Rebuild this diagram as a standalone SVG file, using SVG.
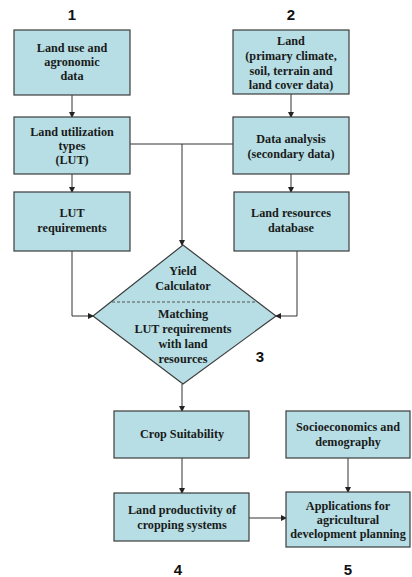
<svg xmlns="http://www.w3.org/2000/svg" width="412" height="577" viewBox="0 0 412 577">
<defs>
<style>
.box{fill:#b6dee4;stroke:#3c3c3c;stroke-width:1.2}
.t{font-family:"Liberation Serif",serif;font-weight:bold;font-size:12.2px;fill:#1a1a1a;text-anchor:middle}
.n{font-family:"Liberation Sans",Arial,sans-serif;font-weight:bold;font-size:15px;fill:#111;text-anchor:middle}
.c{fill:none;stroke:#333;stroke-width:1}
.d{fill:none;stroke:#555;stroke-width:1;stroke-dasharray:3,2}
</style>
<marker id="ah" markerWidth="6" markerHeight="6" refX="5" refY="3" orient="auto" markerUnits="userSpaceOnUse">
<path d="M0,0 L6,3 L0,6 z" fill="#222"/>
</marker>
</defs>
<rect width="412" height="577" fill="#fff"/>
<g id="labels">
<text class="n" x="72" y="20">1</text>
<text class="n" x="291" y="20">2</text>
<text class="n" x="260" y="362">3</text>
<text class="n" x="178" y="575">4</text>
<text class="n" x="348" y="575">5</text>
</g>
<g id="connectors">
<line class="c" x1="72" y1="95" x2="72" y2="117" marker-end="url(#ah)"/>
<line class="c" x1="291" y1="94" x2="291" y2="117" marker-end="url(#ah)"/>
<line class="c" x1="72" y1="174" x2="72" y2="192" marker-end="url(#ah)"/>
<line class="c" x1="291" y1="174" x2="291" y2="192" marker-end="url(#ah)"/>
<line class="c" x1="130" y1="144" x2="233" y2="144"/>
<line class="c" x1="182" y1="144" x2="182" y2="245" marker-end="url(#ah)"/>
<polyline class="c" points="72,251 72,316 93,316" marker-end="url(#ah)"/>
<polyline class="c" points="297,251 297,316 276,316" marker-end="url(#ah)"/>
<line class="c" x1="182" y1="384" x2="182" y2="411" marker-end="url(#ah)"/>
<line class="c" x1="182" y1="458" x2="182" y2="493" marker-end="url(#ah)"/>
<line class="c" x1="348" y1="458" x2="348" y2="492" marker-end="url(#ah)"/>
<line class="c" x1="249" y1="518" x2="286" y2="518" marker-end="url(#ah)"/>
</g>
<g id="n1">
<rect class="box" x="14" y="30" width="116" height="65"/>
<text class="t" x="72" y="52">Land use and</text>
<text class="t" x="72" y="66">agronomic</text>
<text class="t" x="72" y="80">data</text>
</g>
<g id="n2">
<rect class="box" x="233" y="30" width="116" height="64"/>
<text class="t" x="291" y="45">Land</text>
<text class="t" x="291" y="60">(primary climate,</text>
<text class="t" x="291" y="75">soil, terrain and</text>
<text class="t" x="291" y="89">land cover data)</text>
</g>
<g id="lut">
<rect class="box" x="14" y="117" width="116" height="57"/>
<text class="t" x="72" y="136">Land utilization</text>
<text class="t" x="72" y="150">types</text>
<text class="t" x="72" y="164">(LUT)</text>
</g>
<g id="analysis">
<rect class="box" x="233" y="117" width="116" height="57"/>
<text class="t" x="291" y="143">Data analysis</text>
<text class="t" x="291" y="158">(secondary data)</text>
</g>
<g id="lutreq">
<rect class="box" x="14" y="192" width="116" height="59"/>
<text class="t" x="72" y="217">LUT</text>
<text class="t" x="72" y="232">requirements</text>
</g>
<g id="resdb">
<rect class="box" x="234" y="192" width="115" height="59"/>
<text class="t" x="291" y="217">Land resources</text>
<text class="t" x="291" y="232">database</text>
</g>
<g id="diamond">
<polygon class="box" points="183,245 276,316 183,384 93,316"/>
<line class="d" x1="112" y1="302" x2="257" y2="302"/>
<text class="t" x="183" y="275">Yield</text>
<text class="t" x="183" y="290">Calculator</text>
<text class="t" x="183" y="318">Matching</text>
<text class="t" x="183" y="333">LUT requirements</text>
<text class="t" x="183" y="348">with land</text>
<text class="t" x="183" y="363">resources</text>
</g>
<g id="crop">
<rect class="box" x="114" y="411" width="135" height="47"/>
<text class="t" x="182" y="438">Crop Suitability</text>
</g>
<g id="socio">
<rect class="box" x="286" y="411" width="124" height="47"/>
<text class="t" x="348" y="431">Socioeconomics and</text>
<text class="t" x="348" y="446">demography</text>
</g>
<g id="prod">
<rect class="box" x="114" y="493" width="135" height="48"/>
<text class="t" x="182" y="514">Land productivity of</text>
<text class="t" x="182" y="529">cropping systems</text>
</g>
<g id="apps">
<rect class="box" x="286" y="492" width="124" height="55"/>
<text class="t" x="348" y="510">Applications for</text>
<text class="t" x="348" y="524">agricultural</text>
<text class="t" x="348" y="538">development planning</text>
</g>
</svg>
